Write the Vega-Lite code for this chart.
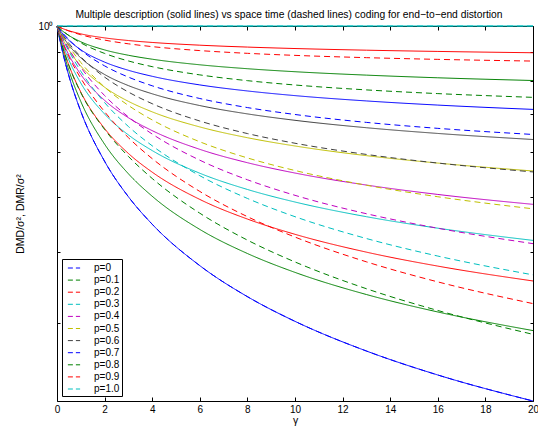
{
"$schema": "https://vega.github.io/schema/vega-lite/v6.json",
"width": 476, "height": 375,
"autosize": {"type": "none"},
"padding": {"left": 57, "top": 26, "right": 5, "bottom": 26},
"background": "white",
"config": {
  "view": {"stroke": "black", "strokeWidth": 1},
  "font": "Liberation Sans",
  "axis": {"domain": false, "grid": false, "tickColor": "black", "labelColor": "black", "titleColor": "black", "labelFont": "Liberation Sans", "titleFont": "Liberation Sans", "labelFontSize": 10, "titleFontSize": 10.5, "titleFontWeight": "normal", "labelOverlap": false}
},
"title": {"text": "Multiple description (solid lines) vs space time (dashed lines) coding for end−to−end distortion", "fontSize": 10.3, "fontWeight": "normal", "font": "Liberation Sans", "color": "black", "anchor": "middle", "offset": 1, "dx": -6},
"datasets": {"curves": [
{"p":"p=0","scheme":"MD","gamma":0,"D":1},{"p":"p=0","scheme":"MD","gamma":0.25,"D":0.8944},{"p":"p=0","scheme":"MD","gamma":0.5,"D":0.8165},{"p":"p=0","scheme":"MD","gamma":1,"D":0.7071},{"p":"p=0","scheme":"MD","gamma":2,"D":0.5774},{"p":"p=0","scheme":"MD","gamma":3,"D":0.5},{"p":"p=0","scheme":"MD","gamma":4,"D":0.4472},{"p":"p=0","scheme":"MD","gamma":6,"D":0.378},{"p":"p=0","scheme":"MD","gamma":8,"D":0.3333},{"p":"p=0","scheme":"MD","gamma":10,"D":0.3015},{"p":"p=0","scheme":"MD","gamma":13,"D":0.2673},{"p":"p=0","scheme":"MD","gamma":16,"D":0.2425},{"p":"p=0","scheme":"MD","gamma":20,"D":0.2182},
{"p":"p=0.1","scheme":"MD","gamma":0,"D":1},{"p":"p=0.1","scheme":"MD","gamma":0.25,"D":0.905},{"p":"p=0.1","scheme":"MD","gamma":0.5,"D":0.8348},{"p":"p=0.1","scheme":"MD","gamma":1,"D":0.7361},{"p":"p=0.1","scheme":"MD","gamma":2,"D":0.6189},{"p":"p=0.1","scheme":"MD","gamma":3,"D":0.5489},{"p":"p=0.1","scheme":"MD","gamma":4,"D":0.501},{"p":"p=0.1","scheme":"MD","gamma":6,"D":0.4379},{"p":"p=0.1","scheme":"MD","gamma":8,"D":0.3971},{"p":"p=0.1","scheme":"MD","gamma":10,"D":0.3678},{"p":"p=0.1","scheme":"MD","gamma":13,"D":0.3362},{"p":"p=0.1","scheme":"MD","gamma":16,"D":0.3132},{"p":"p=0.1","scheme":"MD","gamma":20,"D":0.2904},
{"p":"p=0.2","scheme":"MD","gamma":0,"D":1},{"p":"p=0.2","scheme":"MD","gamma":0.25,"D":0.9154},{"p":"p=0.2","scheme":"MD","gamma":0.5,"D":0.8529},{"p":"p=0.2","scheme":"MD","gamma":1,"D":0.7647},{"p":"p=0.2","scheme":"MD","gamma":2,"D":0.6595},{"p":"p=0.2","scheme":"MD","gamma":3,"D":0.5961},{"p":"p=0.2","scheme":"MD","gamma":4,"D":0.5525},{"p":"p=0.2","scheme":"MD","gamma":6,"D":0.4946},{"p":"p=0.2","scheme":"MD","gamma":8,"D":0.4567},{"p":"p=0.2","scheme":"MD","gamma":10,"D":0.4293},{"p":"p=0.2","scheme":"MD","gamma":13,"D":0.3993},{"p":"p=0.2","scheme":"MD","gamma":16,"D":0.3773},{"p":"p=0.2","scheme":"MD","gamma":20,"D":0.3552},
{"p":"p=0.3","scheme":"MD","gamma":0,"D":1},{"p":"p=0.3","scheme":"MD","gamma":0.25,"D":0.9259},{"p":"p=0.3","scheme":"MD","gamma":0.5,"D":0.8709},{"p":"p=0.3","scheme":"MD","gamma":1,"D":0.7931},{"p":"p=0.3","scheme":"MD","gamma":2,"D":0.6995},{"p":"p=0.3","scheme":"MD","gamma":3,"D":0.6426},{"p":"p=0.3","scheme":"MD","gamma":4,"D":0.6031},{"p":"p=0.3","scheme":"MD","gamma":6,"D":0.5501},{"p":"p=0.3","scheme":"MD","gamma":8,"D":0.515},{"p":"p=0.3","scheme":"MD","gamma":10,"D":0.4894},{"p":"p=0.3","scheme":"MD","gamma":13,"D":0.4611},{"p":"p=0.3","scheme":"MD","gamma":16,"D":0.4401},{"p":"p=0.3","scheme":"MD","gamma":20,"D":0.4188},
{"p":"p=0.4","scheme":"MD","gamma":0,"D":1},{"p":"p=0.4","scheme":"MD","gamma":0.25,"D":0.9364},{"p":"p=0.4","scheme":"MD","gamma":0.5,"D":0.8889},{"p":"p=0.4","scheme":"MD","gamma":1,"D":0.8215},{"p":"p=0.4","scheme":"MD","gamma":2,"D":0.7395},{"p":"p=0.4","scheme":"MD","gamma":3,"D":0.6891},{"p":"p=0.4","scheme":"MD","gamma":4,"D":0.6539},{"p":"p=0.4","scheme":"MD","gamma":6,"D":0.6061},{"p":"p=0.4","scheme":"MD","gamma":8,"D":0.5741},{"p":"p=0.4","scheme":"MD","gamma":10,"D":0.5505},{"p":"p=0.4","scheme":"MD","gamma":13,"D":0.5243},{"p":"p=0.4","scheme":"MD","gamma":16,"D":0.5047},{"p":"p=0.4","scheme":"MD","gamma":20,"D":0.4848},
{"p":"p=0.5","scheme":"MD","gamma":0,"D":1},{"p":"p=0.5","scheme":"MD","gamma":0.25,"D":0.9468},{"p":"p=0.5","scheme":"MD","gamma":0.5,"D":0.907},{"p":"p=0.5","scheme":"MD","gamma":1,"D":0.85},{"p":"p=0.5","scheme":"MD","gamma":2,"D":0.78},{"p":"p=0.5","scheme":"MD","gamma":3,"D":0.7365},{"p":"p=0.5","scheme":"MD","gamma":4,"D":0.7057},{"p":"p=0.5","scheme":"MD","gamma":6,"D":0.6638},{"p":"p=0.5","scheme":"MD","gamma":8,"D":0.6354},{"p":"p=0.5","scheme":"MD","gamma":10,"D":0.6144},{"p":"p=0.5","scheme":"MD","gamma":13,"D":0.5908},{"p":"p=0.5","scheme":"MD","gamma":16,"D":0.5732},{"p":"p=0.5","scheme":"MD","gamma":20,"D":0.5551},
{"p":"p=0.6","scheme":"MD","gamma":0,"D":1},{"p":"p=0.6","scheme":"MD","gamma":0.25,"D":0.9573},{"p":"p=0.6","scheme":"MD","gamma":0.5,"D":0.9252},{"p":"p=0.6","scheme":"MD","gamma":1,"D":0.8788},{"p":"p=0.6","scheme":"MD","gamma":2,"D":0.8213},{"p":"p=0.6","scheme":"MD","gamma":3,"D":0.7851},{"p":"p=0.6","scheme":"MD","gamma":4,"D":0.7594},{"p":"p=0.6","scheme":"MD","gamma":6,"D":0.724},{"p":"p=0.6","scheme":"MD","gamma":8,"D":0.6999},{"p":"p=0.6","scheme":"MD","gamma":10,"D":0.6819},{"p":"p=0.6","scheme":"MD","gamma":13,"D":0.6617},{"p":"p=0.6","scheme":"MD","gamma":16,"D":0.6465},{"p":"p=0.6","scheme":"MD","gamma":20,"D":0.6308},
{"p":"p=0.7","scheme":"MD","gamma":0,"D":1},{"p":"p=0.7","scheme":"MD","gamma":0.25,"D":0.9679},{"p":"p=0.7","scheme":"MD","gamma":0.5,"D":0.9435},{"p":"p=0.7","scheme":"MD","gamma":1,"D":0.9081},{"p":"p=0.7","scheme":"MD","gamma":2,"D":0.8637},{"p":"p=0.7","scheme":"MD","gamma":3,"D":0.8355},{"p":"p=0.7","scheme":"MD","gamma":4,"D":0.8153},{"p":"p=0.7","scheme":"MD","gamma":6,"D":0.7873},{"p":"p=0.7","scheme":"MD","gamma":8,"D":0.7682},{"p":"p=0.7","scheme":"MD","gamma":10,"D":0.7538},{"p":"p=0.7","scheme":"MD","gamma":13,"D":0.7377},{"p":"p=0.7","scheme":"MD","gamma":16,"D":0.7254},{"p":"p=0.7","scheme":"MD","gamma":20,"D":0.7128},
{"p":"p=0.8","scheme":"MD","gamma":0,"D":1},{"p":"p=0.8","scheme":"MD","gamma":0.25,"D":0.9785},{"p":"p=0.8","scheme":"MD","gamma":0.5,"D":0.9621},{"p":"p=0.8","scheme":"MD","gamma":1,"D":0.938},{"p":"p=0.8","scheme":"MD","gamma":2,"D":0.9075},{"p":"p=0.8","scheme":"MD","gamma":3,"D":0.888},{"p":"p=0.8","scheme":"MD","gamma":4,"D":0.8739},{"p":"p=0.8","scheme":"MD","gamma":6,"D":0.8543},{"p":"p=0.8","scheme":"MD","gamma":8,"D":0.8408},{"p":"p=0.8","scheme":"MD","gamma":10,"D":0.8306},{"p":"p=0.8","scheme":"MD","gamma":13,"D":0.8192},{"p":"p=0.8","scheme":"MD","gamma":16,"D":0.8104},{"p":"p=0.8","scheme":"MD","gamma":20,"D":0.8015},
{"p":"p=0.9","scheme":"MD","gamma":0,"D":1},{"p":"p=0.9","scheme":"MD","gamma":0.25,"D":0.9892},{"p":"p=0.9","scheme":"MD","gamma":0.5,"D":0.9809},{"p":"p=0.9","scheme":"MD","gamma":1,"D":0.9686},{"p":"p=0.9","scheme":"MD","gamma":2,"D":0.9529},{"p":"p=0.9","scheme":"MD","gamma":3,"D":0.9427},{"p":"p=0.9","scheme":"MD","gamma":4,"D":0.9354},{"p":"p=0.9","scheme":"MD","gamma":6,"D":0.9251},{"p":"p=0.9","scheme":"MD","gamma":8,"D":0.918},{"p":"p=0.9","scheme":"MD","gamma":10,"D":0.9126},{"p":"p=0.9","scheme":"MD","gamma":13,"D":0.9065},{"p":"p=0.9","scheme":"MD","gamma":16,"D":0.9019},{"p":"p=0.9","scheme":"MD","gamma":20,"D":0.8971},
{"p":"p=1.0","scheme":"MD","gamma":0,"D":1},{"p":"p=1.0","scheme":"MD","gamma":20,"D":1},
{"p":"p=0","scheme":"ST","gamma":0,"D":1},{"p":"p=0","scheme":"ST","gamma":0.25,"D":0.8944},{"p":"p=0","scheme":"ST","gamma":0.5,"D":0.8165},{"p":"p=0","scheme":"ST","gamma":1,"D":0.7071},{"p":"p=0","scheme":"ST","gamma":2,"D":0.5774},{"p":"p=0","scheme":"ST","gamma":3,"D":0.5},{"p":"p=0","scheme":"ST","gamma":4,"D":0.4472},{"p":"p=0","scheme":"ST","gamma":6,"D":0.378},{"p":"p=0","scheme":"ST","gamma":8,"D":0.3333},{"p":"p=0","scheme":"ST","gamma":10,"D":0.3015},{"p":"p=0","scheme":"ST","gamma":13,"D":0.2673},{"p":"p=0","scheme":"ST","gamma":16,"D":0.2425},{"p":"p=0","scheme":"ST","gamma":20,"D":0.2182},
{"p":"p=0.1","scheme":"ST","gamma":0,"D":1},{"p":"p=0.1","scheme":"ST","gamma":0.25,"D":0.9145},{"p":"p=0.1","scheme":"ST","gamma":0.5,"D":0.8514},{"p":"p=0.1","scheme":"ST","gamma":1,"D":0.7628},{"p":"p=0.1","scheme":"ST","gamma":2,"D":0.6572},{"p":"p=0.1","scheme":"ST","gamma":3,"D":0.5889},{"p":"p=0.1","scheme":"ST","gamma":4,"D":0.5385},{"p":"p=0.1","scheme":"ST","gamma":6,"D":0.4677},{"p":"p=0.1","scheme":"ST","gamma":8,"D":0.4193},{"p":"p=0.1","scheme":"ST","gamma":10,"D":0.3837},{"p":"p=0.1","scheme":"ST","gamma":13,"D":0.3442},{"p":"p=0.1","scheme":"ST","gamma":16,"D":0.3151},{"p":"p=0.1","scheme":"ST","gamma":20,"D":0.286},
{"p":"p=0.2","scheme":"ST","gamma":0,"D":1},{"p":"p=0.2","scheme":"ST","gamma":0.25,"D":0.9324},{"p":"p=0.2","scheme":"ST","gamma":0.5,"D":0.8826},{"p":"p=0.2","scheme":"ST","gamma":1,"D":0.8089},{"p":"p=0.2","scheme":"ST","gamma":2,"D":0.7059},{"p":"p=0.2","scheme":"ST","gamma":3,"D":0.6356},{"p":"p=0.2","scheme":"ST","gamma":4,"D":0.5837},{"p":"p=0.2","scheme":"ST","gamma":6,"D":0.5109},{"p":"p=0.2","scheme":"ST","gamma":8,"D":0.4612},{"p":"p=0.2","scheme":"ST","gamma":10,"D":0.4245},{"p":"p=0.2","scheme":"ST","gamma":13,"D":0.3839},{"p":"p=0.2","scheme":"ST","gamma":16,"D":0.3539},{"p":"p=0.2","scheme":"ST","gamma":20,"D":0.324},
{"p":"p=0.3","scheme":"ST","gamma":0,"D":1},{"p":"p=0.3","scheme":"ST","gamma":0.25,"D":0.9471},{"p":"p=0.3","scheme":"ST","gamma":0.5,"D":0.9031},{"p":"p=0.3","scheme":"ST","gamma":1,"D":0.8323},{"p":"p=0.3","scheme":"ST","gamma":2,"D":0.7328},{"p":"p=0.3","scheme":"ST","gamma":3,"D":0.665},{"p":"p=0.3","scheme":"ST","gamma":4,"D":0.6149},{"p":"p=0.3","scheme":"ST","gamma":6,"D":0.5446},{"p":"p=0.3","scheme":"ST","gamma":8,"D":0.4966},{"p":"p=0.3","scheme":"ST","gamma":10,"D":0.4611},{"p":"p=0.3","scheme":"ST","gamma":13,"D":0.422},{"p":"p=0.3","scheme":"ST","gamma":16,"D":0.393},{"p":"p=0.3","scheme":"ST","gamma":20,"D":0.3641},
{"p":"p=0.4","scheme":"ST","gamma":0,"D":1},{"p":"p=0.4","scheme":"ST","gamma":0.25,"D":0.952},{"p":"p=0.4","scheme":"ST","gamma":0.5,"D":0.9113},{"p":"p=0.4","scheme":"ST","gamma":1,"D":0.8459},{"p":"p=0.4","scheme":"ST","gamma":2,"D":0.754},{"p":"p=0.4","scheme":"ST","gamma":3,"D":0.6913},{"p":"p=0.4","scheme":"ST","gamma":4,"D":0.645},{"p":"p=0.4","scheme":"ST","gamma":6,"D":0.58},{"p":"p=0.4","scheme":"ST","gamma":8,"D":0.5357},{"p":"p=0.4","scheme":"ST","gamma":10,"D":0.5029},{"p":"p=0.4","scheme":"ST","gamma":13,"D":0.4667},{"p":"p=0.4","scheme":"ST","gamma":16,"D":0.44},{"p":"p=0.4","scheme":"ST","gamma":20,"D":0.4133},
{"p":"p=0.5","scheme":"ST","gamma":0,"D":1},{"p":"p=0.5","scheme":"ST","gamma":0.25,"D":0.9571},{"p":"p=0.5","scheme":"ST","gamma":0.5,"D":0.9208},{"p":"p=0.5","scheme":"ST","gamma":1,"D":0.8624},{"p":"p=0.5","scheme":"ST","gamma":2,"D":0.7803},{"p":"p=0.5","scheme":"ST","gamma":3,"D":0.7243},{"p":"p=0.5","scheme":"ST","gamma":4,"D":0.683},{"p":"p=0.5","scheme":"ST","gamma":6,"D":0.625},{"p":"p=0.5","scheme":"ST","gamma":8,"D":0.5854},{"p":"p=0.5","scheme":"ST","gamma":10,"D":0.5562},{"p":"p=0.5","scheme":"ST","gamma":13,"D":0.5239},{"p":"p=0.5","scheme":"ST","gamma":16,"D":0.5},{"p":"p=0.5","scheme":"ST","gamma":20,"D":0.4761},
{"p":"p=0.6","scheme":"ST","gamma":0,"D":1},{"p":"p=0.6","scheme":"ST","gamma":0.25,"D":0.9634},{"p":"p=0.6","scheme":"ST","gamma":0.5,"D":0.9324},{"p":"p=0.6","scheme":"ST","gamma":1,"D":0.8826},{"p":"p=0.6","scheme":"ST","gamma":2,"D":0.8126},{"p":"p=0.6","scheme":"ST","gamma":3,"D":0.7648},{"p":"p=0.6","scheme":"ST","gamma":4,"D":0.7295},{"p":"p=0.6","scheme":"ST","gamma":6,"D":0.68},{"p":"p=0.6","scheme":"ST","gamma":8,"D":0.6462},{"p":"p=0.6","scheme":"ST","gamma":10,"D":0.6213},{"p":"p=0.6","scheme":"ST","gamma":13,"D":0.5937},{"p":"p=0.6","scheme":"ST","gamma":16,"D":0.5733},{"p":"p=0.6","scheme":"ST","gamma":20,"D":0.553},
{"p":"p=0.7","scheme":"ST","gamma":0,"D":1},{"p":"p=0.7","scheme":"ST","gamma":0.25,"D":0.9708},{"p":"p=0.7","scheme":"ST","gamma":0.5,"D":0.9462},{"p":"p=0.7","scheme":"ST","gamma":1,"D":0.9064},{"p":"p=0.7","scheme":"ST","gamma":2,"D":0.8506},{"p":"p=0.7","scheme":"ST","gamma":3,"D":0.8126},{"p":"p=0.7","scheme":"ST","gamma":4,"D":0.7845},{"p":"p=0.7","scheme":"ST","gamma":6,"D":0.745},{"p":"p=0.7","scheme":"ST","gamma":8,"D":0.7181},{"p":"p=0.7","scheme":"ST","gamma":10,"D":0.6982},{"p":"p=0.7","scheme":"ST","gamma":13,"D":0.6762},{"p":"p=0.7","scheme":"ST","gamma":16,"D":0.66},{"p":"p=0.7","scheme":"ST","gamma":20,"D":0.6438},
{"p":"p=0.8","scheme":"ST","gamma":0,"D":1},{"p":"p=0.8","scheme":"ST","gamma":0.25,"D":0.9794},{"p":"p=0.8","scheme":"ST","gamma":0.5,"D":0.962},{"p":"p=0.8","scheme":"ST","gamma":1,"D":0.9339},{"p":"p=0.8","scheme":"ST","gamma":2,"D":0.8946},{"p":"p=0.8","scheme":"ST","gamma":3,"D":0.8677},{"p":"p=0.8","scheme":"ST","gamma":4,"D":0.8479},{"p":"p=0.8","scheme":"ST","gamma":6,"D":0.82},{"p":"p=0.8","scheme":"ST","gamma":8,"D":0.801},{"p":"p=0.8","scheme":"ST","gamma":10,"D":0.787},{"p":"p=0.8","scheme":"ST","gamma":13,"D":0.7715},{"p":"p=0.8","scheme":"ST","gamma":16,"D":0.76},{"p":"p=0.8","scheme":"ST","gamma":20,"D":0.7485},
{"p":"p=0.9","scheme":"ST","gamma":0,"D":1},{"p":"p=0.9","scheme":"ST","gamma":0.25,"D":0.9891},{"p":"p=0.9","scheme":"ST","gamma":0.5,"D":0.9799},{"p":"p=0.9","scheme":"ST","gamma":1,"D":0.9651},{"p":"p=0.9","scheme":"ST","gamma":2,"D":0.9444},{"p":"p=0.9","scheme":"ST","gamma":3,"D":0.9302},{"p":"p=0.9","scheme":"ST","gamma":4,"D":0.9197},{"p":"p=0.9","scheme":"ST","gamma":6,"D":0.905},{"p":"p=0.9","scheme":"ST","gamma":8,"D":0.895},{"p":"p=0.9","scheme":"ST","gamma":10,"D":0.8876},{"p":"p=0.9","scheme":"ST","gamma":13,"D":0.8794},{"p":"p=0.9","scheme":"ST","gamma":16,"D":0.8733},{"p":"p=0.9","scheme":"ST","gamma":20,"D":0.8673},
{"p":"p=1.0","scheme":"ST","gamma":0,"D":1},{"p":"p=1.0","scheme":"ST","gamma":20,"D":1}
]},
"layer": [
  {
    "data": {"name": "curves"},
    "mark": {"type": "line", "strokeWidth": 1, "interpolate": "monotone"},
    "encoding": {
      "x": {"field": "gamma", "type": "quantitative", "scale": {"domain": [0, 20], "nice": false, "zero": false},
            "axis": {"orient": "bottom", "values": [0,2,4,6,8,10,12,14,16,18,20], "tickSize": -4, "labelPadding": 7, "labelFlush": false, "title": "γ", "titlePadding": 1}},
      "y": {"field": "D", "type": "quantitative", "scale": {"type": "log", "domain": [0.2182, 1], "nice": false},
            "axis": {"orient": "left", "values": [0.3,0.4,0.5,0.6,0.7,0.8,0.9,1], "tickSize": -3, "labelPadding": 7, "labelExpr": "datum.value == 1 ? '10⁰' : ''", "title": "DMD/σ², DMR/σ²", "titlePadding": 12}},
      "color": {"field": "p", "type": "nominal",
                "scale": {"domain": ["p=0","p=0.1","p=0.2","p=0.3","p=0.4","p=0.5","p=0.6","p=0.7","p=0.8","p=0.9","p=1.0"],
                          "range": ["#0000ff","#008000","#ff0000","#00bfbf","#bf00bf","#bfbf00","#404040","#0000ff","#008000","#ff0000","#00bfbf"]},
                "legend": {"orient": "bottom-left", "offset": 5, "title": null, "symbolType": "stroke", "symbolStrokeWidth": 1, "symbolDash": [5, 3], "symbolSize": 150, "symbolOffset": 3, "labelFontSize": 10, "labelFont": "Liberation Sans", "labelColor": "black", "labelExpr": "datum.label + '   '", "strokeColor": "black", "fillColor": "white", "padding": 2, "rowPadding": 0.1, "labelOffset": 13}},
      "strokeDash": {"field": "scheme", "type": "nominal", "scale": {"domain": ["MD", "ST"], "range": [[1, 0], [6, 4]]}, "legend": null}
    }
  },
  {
    "data": {"name": "curves"},
    "mark": {"type": "point", "opacity": 0},
    "encoding": {
      "x": {"field": "gamma", "type": "quantitative", "axis": {"orient": "top", "values": [0,2,4,6,8,10,12,14,16,18,20], "tickSize": -4, "labels": false, "title": null}},
      "y": {"field": "D", "type": "quantitative", "axis": {"orient": "right", "values": [0.3,0.4,0.5,0.6,0.7,0.8,0.9,1], "tickSize": -3, "labels": false, "title": null}}
    }
  }
],
"resolve": {"axis": {"x": "independent", "y": "independent"}}
}
